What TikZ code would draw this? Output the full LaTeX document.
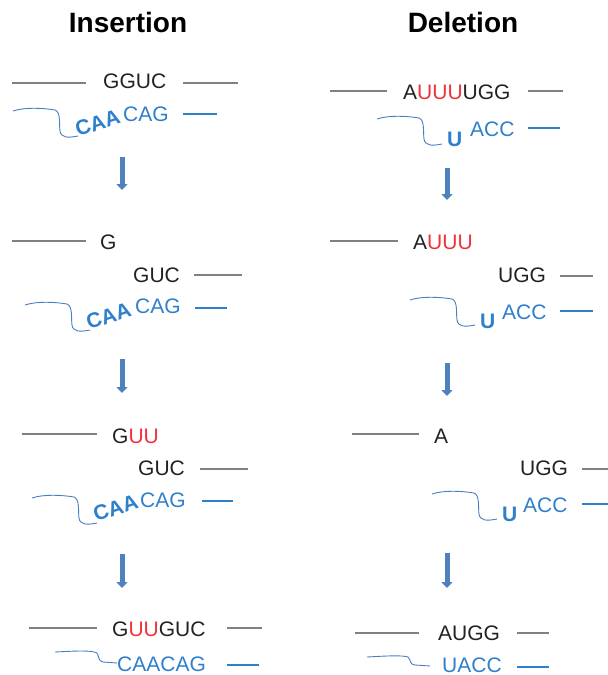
\documentclass[tikz,border=0pt]{standalone}
\usepackage{fontspec}
\setmainfont{Liberation Sans}
\usetikzlibrary{arrows.meta}
\definecolor{basek}{HTML}{222222}
\definecolor{strandgray}{HTML}{808080}
\definecolor{rnablue}{HTML}{2E7FCC}
\definecolor{tailblue}{HTML}{4A7EC2}
\definecolor{editred}{HTML}{F0303A}
\definecolor{arrowblue}{HTML}{4F81BD}
\tikzset{
  seq/.style={anchor=base west, inner sep=0pt, text=basek, font=\fontsize{21}{21}\selectfont},
  gseq/.style={seq, text=rnablue},
  bseq/.style={seq, text=rnablue, font=\fontsize{21}{21}\selectfont\bfseries},
  title/.style={anchor=base, inner sep=0pt, font=\fontsize{28}{28}\selectfont\bfseries},
  mrna/.style={draw=strandgray, line width=1.1pt},
  grna/.style={draw=rnablue, line width=1.1pt},
  tailline/.style={draw=tailblue, line width=0.9pt},
  flow/.style={draw=arrowblue, line width=5pt, -{Triangle[width=11pt,length=6pt]}},
  tail/.pic={\draw[tailline] (0,0) .. controls (12,-4) and (30,-3) .. (42,-1)
      .. controls (48,1) and (46,14) .. (47,20)
      .. controls (48,27) and (55,27) .. (65,25);},
}
\newcommand{\rd}[1]{\textcolor{editred}{#1}}
\begin{document}
\begin{tikzpicture}[x=1pt,y=-1pt]
\useasboundingbox (0,0) rectangle (608,675);

% column headings
\node[title] (tins) at (128,32) {Insertion};
\node[title] (tdel) at (463,32) {Deletion};

% ---------- insertion, step 1 ----------
\draw[mrna] (12,83) -- (86,83);
\node[seq] (i1m) at (103,88.5) {GGUC};
\draw[mrna] (183,83) -- (238,83);
\pic at (13,111) {tail};
\node[bseq, rotate=18] (i1a) at (78,137) {CAA};
\node[gseq] (i1g) at (123,121) {CAG};
\draw[grna] (183,114) -- (217,114);

% ---------- insertion, step 2 ----------
\draw[mrna] (12,241) -- (86,241);
\node[seq] (i2l) at (100,249) {G};
\node[seq] (i2r) at (133,282) {GUC};
\draw[mrna] (194,275) -- (242,275);
\pic at (25,305) {tail};
\node[bseq, rotate=18] (i2a) at (89,330) {CAA};
\node[gseq] (i2g) at (135,313) {CAG};
\draw[grna] (195,308) -- (227,308);

% ---------- insertion, step 3 ----------
\draw[mrna] (22,434) -- (97,434);
\node[seq] (i3l) at (112,443) {G\rd{UU}};
\node[seq] (i3r) at (138,475) {GUC};
\draw[mrna] (200,469) -- (248,469);
\pic at (32,498) {tail};
\node[bseq, rotate=18] (i3a) at (96,522) {CAA};
\node[gseq] (i3g) at (140,507) {CAG};
\draw[grna] (202,501) -- (233,501);

% ---------- insertion, result ----------
\draw[mrna] (29,628) -- (97,628);
\node[seq] (i4m) at (112,636) {G\rd{UU}GUC};
\draw[mrna] (227,628) -- (262,628);
\draw[tailline] (55,652) .. controls (75,651) and (92,650) .. (97,653)
  .. controls (99,656) and (98,661) .. (103,662) -- (117,663);
\node[gseq] (i4g) at (117,671) {CAACAG};
\draw[grna] (227,665) -- (259,665);

% ---------- deletion, step 1 ----------
\draw[mrna] (330,91) -- (387,91);
\node[seq] (d1m) at (403,99) {A\rd{UUU}UGG};
\draw[mrna] (528,91) -- (563,91);
\pic at (377,119) {tail};
\node[bseq] (d1u) at (447,146) {U};
\node[gseq] (d1g) at (470,136) {ACC};
\draw[grna] (528,128) -- (560,128);

% ---------- deletion, step 2 ----------
\draw[mrna] (330,241) -- (398,241);
\node[seq] (d2l) at (413,249) {A\rd{UUU}};
\node[seq] (d2r) at (498,282) {UGG};
\draw[mrna] (560,276) -- (593,276);
\pic at (410,300) {tail};
\node[bseq] (d2u) at (480,328) {U};
\node[gseq] (d2g) at (502,319) {ACC};
\draw[grna] (560,311) -- (593,311);

% ---------- deletion, step 3 ----------
\draw[mrna] (352,434) -- (419,434);
\node[seq] (d3l) at (434,443) {A};
\node[seq] (d3r) at (520,475) {UGG};
\draw[mrna] (582,469) -- (608,469);
\pic at (432,494) {tail};
\node[bseq] (d3u) at (502,521) {U};
\node[gseq] (d3g) at (523,512) {ACC};
\draw[grna] (582,504) -- (608,504);

% ---------- deletion, result ----------
\draw[mrna] (355,633) -- (419,633);
\node[seq] (d4m) at (438,640) {AUGG};
\draw[mrna] (517,633) -- (549,633);
\draw[tailline] (367,657) .. controls (385,656) and (402,655) .. (408,657)
  .. controls (411,660) and (410,665) .. (415,665) -- (430,666);
\node[gseq] (d4g) at (442,672) {UACC};
\draw[grna] (517,667) -- (549,667);

% ---------- step arrows ----------
\coordinate (ia1) at (122,157); \coordinate (ib1) at (122,190);
\coordinate (ia2) at (122,359); \coordinate (ib2) at (122,393);
\coordinate (ia3) at (122,554); \coordinate (ib3) at (122,588);
\coordinate (da1) at (447,168); \coordinate (db1) at (447,200);
\coordinate (da2) at (447,363); \coordinate (db2) at (447,396);
\coordinate (da3) at (447,553); \coordinate (db3) at (447,588);
\foreach \s in {1,2,3}{
  \draw[flow] (ia\s) -- (ib\s);
  \draw[flow] (da\s) -- (db\s);
}
\end{tikzpicture}
\end{document}
